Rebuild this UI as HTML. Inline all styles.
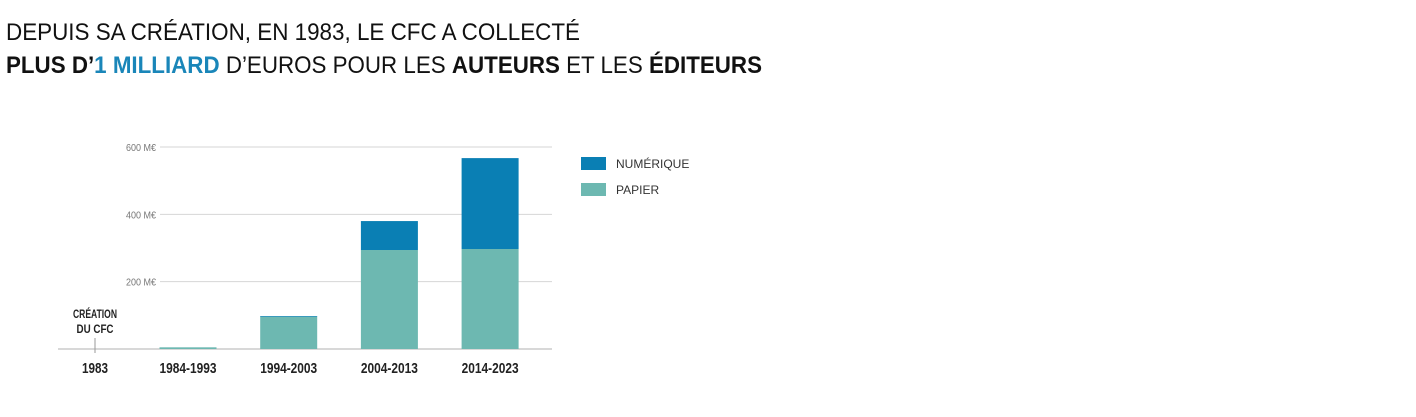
<!DOCTYPE html>
<html><head><meta charset="utf-8"><style>
body{margin:0;background:#fff;width:1416px;height:417px;overflow:hidden;font-family:"Liberation Sans",sans-serif}
svg{display:block}
</style></head><body>
<svg id="chart" width="1416" height="417">
<text x="6" y="40" font-size="24" fill="#111" textLength="574" lengthAdjust="spacingAndGlyphs">DEPUIS SA CRÉATION, EN 1983, LE CFC A COLLECTÉ</text>
<text x="6" y="73" font-size="24" fill="#111" textLength="756" lengthAdjust="spacingAndGlyphs"><tspan font-weight="bold">PLUS D’</tspan><tspan font-weight="bold" fill="#1a86b9">1 MILLIARD</tspan> D’EUROS POUR LES <tspan font-weight="bold">AUTEURS</tspan> ET LES <tspan font-weight="bold">ÉDITEURS</tspan></text>
<g id="grid"></g><g id="bars"></g><g id="xlabels"></g>
<line x1="95" y1="338" x2="95" y2="353" stroke="#999" stroke-width="1"/>
<text x="95" y="318" font-size="12" font-weight="bold" fill="#222" text-anchor="middle" textLength="44" lengthAdjust="spacingAndGlyphs">CRÉATION</text>
<text x="95" y="333" font-size="12" font-weight="bold" fill="#222" text-anchor="middle" textLength="37" lengthAdjust="spacingAndGlyphs">DU CFC</text>
<rect x="581" y="157" width="25" height="13" fill="#0a7fb4"/>
<text x="616" y="168" font-size="12" fill="#333">NUMÉRIQUE</text>
<rect x="581" y="183" width="25" height="13" fill="#6db8b1"/>
<text x="616" y="194" font-size="12" fill="#333">PAPIER</text>
</svg>
<script>
const categories=["1984-1993","1994-2003","2004-2013","2014-2023"];
const papier=[5,96,294,297];
const numerique=[0,2,86,270];
const ticks=[200,400,600];
const tickLabels=["200 M€","400 M€","600 M€"];
const NS="http://www.w3.org/2000/svg";
const y0=349,yTop=147,vmax=600;
const y=v=>y0-(v/vmax)*(y0-yTop);
const x=i=>188+i*100.7;
const bw=57;
function mk(t,a,p){const e=document.createElementNS(NS,t);for(const k in a)e.setAttribute(k,a[k]);p.appendChild(e);return e;}
const g=document.getElementById('grid');
ticks.forEach((t,i)=>{
 const l=mk('line',{x1:160,x2:552,y1:y(t),y2:y(t),stroke:'#d6d6d6','stroke-width':1},g);
 
 
 const tx=mk('text',{x:156,y:y(t)+4,'font-size':10,fill:'#777','text-anchor':'end',textLength:30,lengthAdjust:'spacingAndGlyphs'},g);
 tx.textContent=tickLabels[i];
 
 
});
const base=mk('line',{x1:58,x2:552,y1:y0,y2:y0,stroke:'#ccc','stroke-width':1.5},g);


const b=document.getElementById('bars'),xl=document.getElementById('xlabels');
categories.forEach((c,i)=>{
 const cx=x(i);
 const r1=mk('rect',{x:cx-bw/2,y:y(papier[i]),width:bw,height:y0-y(papier[i]),fill:'#6db8b1'},b);
 
 
 if(numerique[i]>0){
  const r2=mk('rect',{x:cx-bw/2,y:y(papier[i]+numerique[i]),width:bw,height:y(papier[i])-y(papier[i]+numerique[i]),fill:'#0a7fb4'},b);
  
  
 }
 const t=mk('text',{x:cx,y:373,'font-size':15,'font-weight':'bold',fill:'#222','text-anchor':'middle',textLength:57,lengthAdjust:'spacingAndGlyphs'},xl);
 t.textContent=c;
 
 
});
const t0=mk('text',{x:95,y:373,'font-size':15,'font-weight':'bold',fill:'#222','text-anchor':'middle',textLength:26,lengthAdjust:'spacingAndGlyphs'},xl);
t0.textContent="1983";


</script>
</body></html>
